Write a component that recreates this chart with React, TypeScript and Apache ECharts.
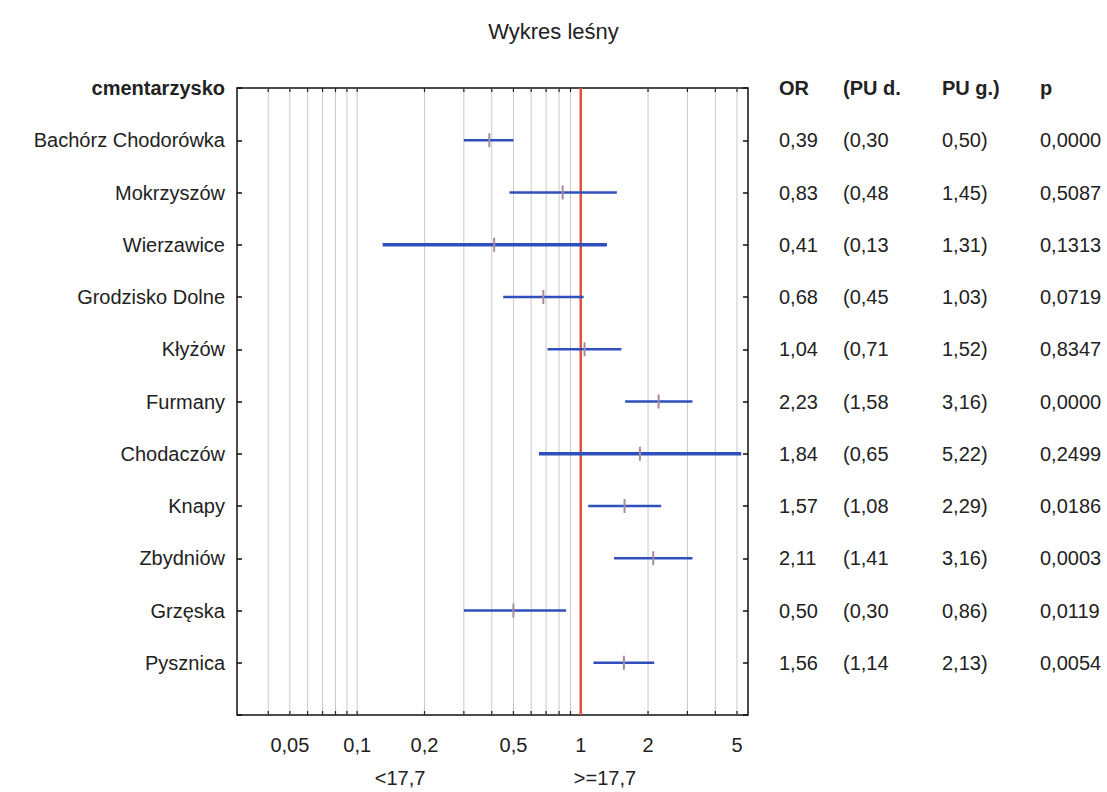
import { useEffect, useRef } from 'react';
import * as echarts from 'echarts';

const chartTitle = 'Wykres leśny';
const headerName = 'cmentarzysko';
const headerCols = ['OR', '(PU d.', 'PU g.)', 'p'];
const sites = [
  'Bachórz Chodorówka',
  'Mokrzyszów',
  'Wierzawice',
  'Grodzisko Dolne',
  'Kłyżów',
  'Furmany',
  'Chodaczów',
  'Knapy',
  'Zbydniów',
  'Grzęska',
  'Pysznica',
];
const orValues = [0.39, 0.83, 0.41, 0.68, 1.04, 2.23, 1.84, 1.57, 2.11, 0.5, 1.56];
const ciLower = [0.3, 0.48, 0.13, 0.45, 0.71, 1.58, 0.65, 1.08, 1.41, 0.3, 1.14];
const ciUpper = [0.5, 1.45, 1.31, 1.03, 1.52, 3.16, 5.22, 2.29, 3.16, 0.86, 2.13];
const pValues = [0.0, 0.5087, 0.1313, 0.0719, 0.8347, 0.0, 0.2499, 0.0186, 0.0003, 0.0119, 0.0054];
const xTickLabels = [0.05, 0.1, 0.2, 0.5, 1, 2, 5];
const gridValues = [0.04, 0.05, 0.06, 0.07, 0.08, 0.09, 0.1, 0.2, 0.3, 0.4, 0.5, 0.6, 0.7, 0.8, 0.9, 2, 3, 4, 5];
const refValue = 1;
const groupLabels = ['<17,7', '>=17,7'];
const thickRows = [2, 6];

const FONT = '"Liberation Sans", Arial, sans-serif';
const fmt = (v: number, d: number) => v.toFixed(d).replace('.', ',');

export default function App() {
  const ref = useRef<HTMLDivElement>(null);

  useEffect(() => {
    if (!ref.current) return;
    const chart = echarts.init(ref.current, null, { renderer: 'svg' });
    const categories = [headerName, ...sites, ''];
    const lastIdx = categories.length - 1;
    const n = sites.length;

    const colRich = (bold: boolean) => {
      const base = { fontSize: 20, fontFamily: FONT, color: '#222', fontWeight: bold ? 'bold' : 'normal' };
      return {
        [bold ? 'ha' : 'a']: { ...base, width: 64 },
        [bold ? 'hb' : 'b']: { ...base, width: 99 },
        [bold ? 'hc' : 'c']: { ...base, width: 98 },
        [bold ? 'hd' : 'd']: { ...base },
      };
    };

    chart.setOption({
      animation: false,
      backgroundColor: '#fff',
      title: {
        text: chartTitle,
        left: 'center',
        top: 15,
        textStyle: { fontSize: 22, fontWeight: 'normal', fontFamily: FONT, color: '#222' },
      },
      grid: {
        left: 237,
        right: 359,
        top: 88,
        bottom: 77,
        show: true,
        borderColor: '#111',
        borderWidth: 1.5,
        backgroundColor: 'transparent',
      },
      xAxis: {
        type: 'log',
        logBase: 10,
        min: 0.029,
        max: 5.6,
        axisLine: { show: false },
        axisTick: { show: false },
        axisLabel: { show: false },
        splitLine: { show: false },
      },
      yAxis: [
        {
          type: 'category',
          data: categories,
          inverse: true,
          boundaryGap: false,
          axisLine: { show: false },
          axisTick: { show: true, inside: true, length: 5, lineStyle: { color: '#111', width: 1.5 } },
          splitLine: { show: false },
          axisLabel: {
            margin: 12,
            fontSize: 20,
            fontFamily: FONT,
            color: '#222',
            formatter: (value: string, index: number) => (index === 0 ? `{h|${value}}` : value),
            rich: { h: { fontSize: 20, fontFamily: FONT, fontWeight: 'bold', color: '#222' } },
          },
        },
        {
          type: 'category',
          data: categories,
          inverse: true,
          boundaryGap: false,
          position: 'right',
          axisLine: { show: false },
          axisTick: { show: true, inside: true, length: 5, lineStyle: { color: '#111', width: 1.5 } },
          splitLine: { show: false },
          axisLabel: {
            margin: 31,
            align: 'left',
            fontSize: 20,
            fontFamily: FONT,
            color: '#222',
            formatter: (_value: string, index: number) => {
              if (index === 0) {
                return `{ha|${headerCols[0]}}{hb|${headerCols[1]}}{hc|${headerCols[2]}}{hd|${headerCols[3]}}`;
              }
              if (index >= 1 && index <= n) {
                const i = index - 1;
                return `{a|${fmt(orValues[i], 2)}}{b|(${fmt(ciLower[i], 2)}}{c|${fmt(ciUpper[i], 2)})}{d|${fmt(pValues[i], 4)}}`;
              }
              return '';
            },
            rich: { ...colRich(true), ...colRich(false) },
          },
        },
      ],
      graphic: [
        {
          type: 'text',
          x: 400,
          y: 778,
          style: { text: groupLabels[0], fontSize: 20, fontFamily: FONT, fill: '#222', textAlign: 'center', textVerticalAlign: 'middle' },
        },
        {
          type: 'text',
          x: 605,
          y: 778,
          style: { text: groupLabels[1], fontSize: 20, fontFamily: FONT, fill: '#222', textAlign: 'center', textVerticalAlign: 'middle' },
        },
      ],
      series: [
        {
          type: 'custom',
          name: 'grid',
          z: 1,
          silent: true,
          encode: { x: 0 },
          data: gridValues.map((v) => [v]),
          renderItem: (_p: any, api: any) => {
            const v = api.value(0);
            const top = api.coord([v, 0]);
            const bot = api.coord([v, lastIdx]);
            return {
              type: 'group',
              children: [
                { type: 'line', shape: { x1: top[0], y1: top[1], x2: bot[0], y2: bot[1] }, style: { stroke: '#c9c9c9', lineWidth: 1 } },
                { type: 'line', shape: { x1: top[0], y1: top[1], x2: top[0], y2: top[1] + 4 }, style: { stroke: '#222', lineWidth: 1.2 } },
                { type: 'line', shape: { x1: bot[0], y1: bot[1], x2: bot[0], y2: bot[1] - 4 }, style: { stroke: '#222', lineWidth: 1.2 } },
              ],
            };
          },
        },
        {
          type: 'custom',
          name: 'xlabels',
          z: 1,
          silent: true,
          encode: { x: 0 },
          data: xTickLabels.map((v) => [v]),
          renderItem: (_p: any, api: any) => {
            const v = api.value(0);
            const bot = api.coord([v, lastIdx]);
            return {
              type: 'text',
              x: bot[0],
              y: bot[1] + 30,
              style: {
                text: fmt(v, v >= 1 ? 0 : v >= 0.1 ? 1 : 2),
                fontSize: 20,
                fontFamily: FONT,
                fill: '#222',
                textAlign: 'center',
                textVerticalAlign: 'middle',
              },
            };
          },
        },
        {
          type: 'custom',
          name: 'ref',
          z: 2,
          silent: true,
          encode: { x: 0 },
          data: [[refValue]],
          renderItem: (_p: any, api: any) => {
            const v = api.value(0);
            const top = api.coord([v, 0]);
            const bot = api.coord([v, lastIdx]);
            return { type: 'line', shape: { x1: top[0], y1: top[1], x2: bot[0], y2: bot[1] }, style: { stroke: '#e0503c', lineWidth: 2.5 } };
          },
        },
        {
          type: 'custom',
          name: 'ci',
          z: 3,
          encode: { x: [0, 1], y: 2 },
          data: sites.map((_, i) => [ciLower[i], ciUpper[i], i + 1]),
          renderItem: (params: any, api: any) => {
            const y = api.value(2);
            const p1 = api.coord([api.value(0), y]);
            const p2 = api.coord([api.value(1), y]);
            const w = thickRows.includes(params.dataIndex) ? 3.5 : 2.4;
            return { type: 'line', shape: { x1: p1[0], y1: p1[1], x2: p2[0], y2: p2[1] }, style: { stroke: '#2f4fbd', lineWidth: w } };
          },
        },
        {
          type: 'custom',
          name: 'or',
          z: 4,
          encode: { x: 0, y: 1 },
          data: sites.map((_, i) => [orValues[i], i + 1]),
          renderItem: (_p: any, api: any) => {
            const c = api.coord([api.value(0), api.value(1)]);
            return { type: 'line', shape: { x1: c[0], y1: c[1] - 7, x2: c[0], y2: c[1] + 7 }, style: { stroke: '#a88a9e', lineWidth: 2 } };
          },
        },
      ],
    });

    return () => chart.dispose();
  }, []);

  return <div ref={ref} style={{ position: 'absolute', left: 0, top: 0, width: 1107, height: 792 }} />;
}
